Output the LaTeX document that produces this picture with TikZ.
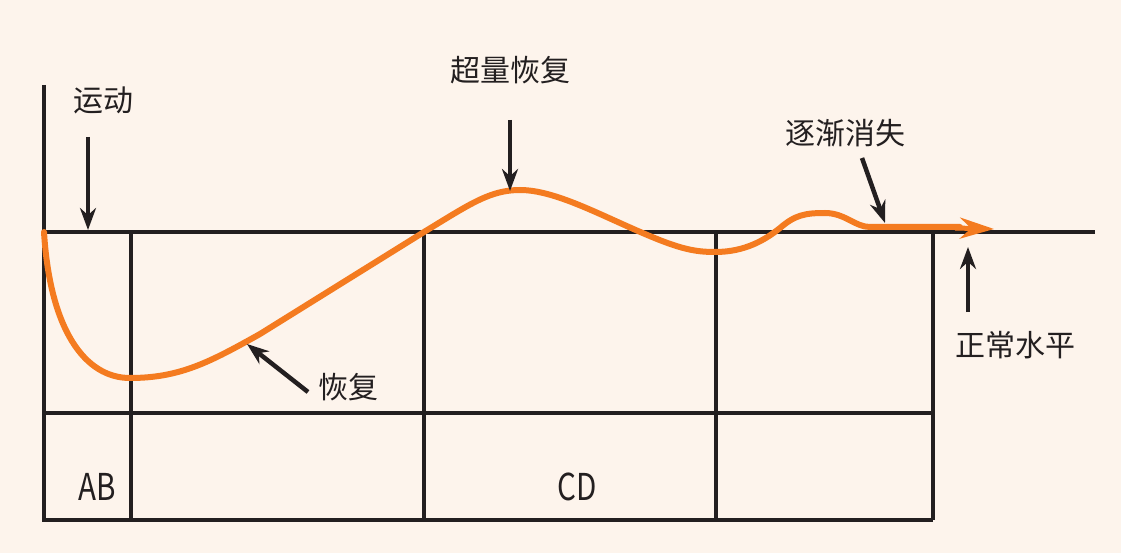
\documentclass[tikz,border=0pt]{standalone}
\usepackage{fontspec}
\setmainfont{Noto Sans CJK SC}
\usetikzlibrary{arrows.meta, positioning}

\definecolor{bgcream}{HTML}{FDF4EC}
\definecolor{inkblack}{HTML}{231F20}
\definecolor{curveorange}{HTML}{F47B20}

\tikzset{
  gridline/.style={inkblack, line width=4pt},
  pointer/.style={inkblack, line width=4.5pt, -{Stealth[length=22pt, width=16pt]}},
  curveline/.style={curveorange, line width=6pt, line cap=round},
  cjklabel/.style={inner sep=0pt, text=inkblack, font=\fontsize{30}{33}\selectfont},
  cellfont/.style={inner sep=0pt, text=inkblack, font=\fontsize{37}{40}\selectfont, xscale=0.8}
}

\begin{document}
\begin{tikzpicture}[x=1pt, y=-1pt]
% background and frame of the picture
\fill[bgcream] (0,0) rectangle (1121,553);
\useasboundingbox (0,0) rectangle (1121,553);

% axes and table
\draw[gridline] (44,85) -- (44,520) -- (933,520);
\draw[gridline] (44,232) -- (1095,232);
\draw[gridline] (44,413) -- (933,413);
\foreach \xc in {131,424,716,933}
  \draw[gridline] (\xc,232) -- (\xc,520);

% orange response curve
\draw[curveline] (44,232) .. controls (50,330) and (85,378) .. (130,378)
  .. controls (180,378) and (210,362) .. (260,334) -- (424,232)
  .. controls (470,204) and (490,190) .. (520,190)
  .. controls (555,190) and (600,215) .. (645,234)
  .. controls (680,249) and (695,252) .. (715,252)
  .. controls (745,252) and (765,240) .. (780,228)
  .. controls (795,215) and (805,213) .. (825,213)
  .. controls (845,213) and (855,227) .. (870,227) -- (960,227);
\draw[curveorange, line width=5pt, -{Stealth[length=34pt, width=21pt]}] (955,228) -- (994,229);

% labels
\node[cjklabel] (sport) at (103,100) {运动};
\node[cjklabel] (supercomp) at (510,70) {超量恢复};
\node[cjklabel] (fade) at (845,133) {逐渐消失};
\node[cjklabel] (normal) at (1015,345) {正常水平};
\node[cjklabel] (recover) at (348,387) {恢复};
\node[cellfont] (ab) at (97,487) {AB};
\node[cellfont] (cd) at (577,487) {CD};

% pointer arrows
\coordinate (sportA) at (88,137);
\coordinate (sportB) at (88,230);
\coordinate (superA) at (510,120);
\coordinate (superB) at (510,191);
\coordinate (fadeA) at (862,158);
\coordinate (fadeB) at (885,223);
\coordinate (normalA) at (968,312);
\coordinate (normalB) at (968,247);
\coordinate (recA) at (308,392);
\coordinate (recB) at (247,344);
\draw[pointer] (sportA) -- (sportB);
\draw[pointer] (superA) -- (superB);
\draw[pointer] (fadeA) -- (fadeB);
\draw[pointer] (normalA) -- (normalB);
\draw[pointer] (recA) -- (recB);
\end{tikzpicture}
\end{document}
